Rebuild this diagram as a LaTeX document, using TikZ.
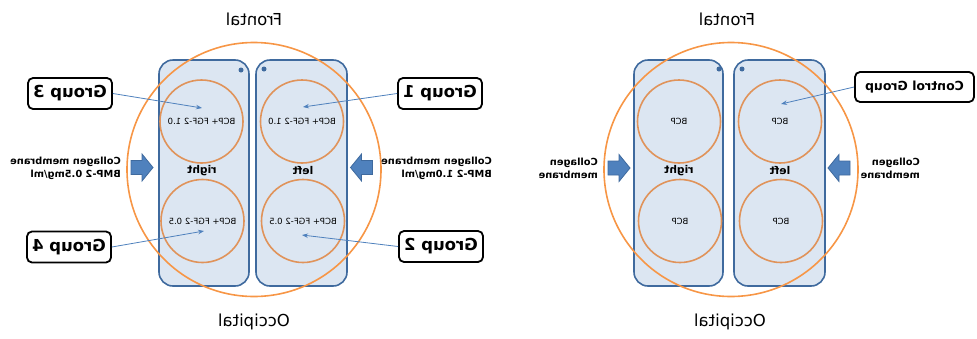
\documentclass[tikz,border=0pt]{standalone}
\usepackage{fontspec}
\setmainfont{DejaVu Sans}
\usepackage{graphicx}
\usetikzlibrary{arrows.meta}
\definecolor{slotfill}{HTML}{DCE6F2}
\definecolor{slotline}{HTML}{3F6A9E}
\definecolor{ring}{HTML}{F79646}
\definecolor{wellring}{HTML}{E0935A}
\definecolor{arrowblue}{HTML}{4F81BD}
\newcommand{\mir}[1]{\reflectbox{#1}}
\newcommand{\twoline}[2]{\mir{\begin{tabular}{@{}l@{}}#1\\#2\end{tabular}}}
\begin{document}
\begin{tikzpicture}[x=1pt,y=-1pt,
 slot/.style={draw=slotline, fill=slotfill, line width=1.6pt, rounded corners=14pt, minimum height=226pt, inner sep=0pt},
 skull/.style={circle, draw=ring, line width=1.6pt, minimum size=254pt, inner sep=0pt},
 well/.style={circle, draw=wellring, line width=1.6pt, minimum size=83pt, inner sep=0pt, font=\fontsize{8.5}{10}\selectfont},
 grp/.style={draw=black, line width=1.8pt, rounded corners=5pt, fill=white, font=\bfseries\fontsize{16.5}{18}\selectfont, minimum height=31pt, inner sep=0pt},
 side/.style={font=\bfseries\fontsize{10.7}{12}\selectfont, inner sep=0pt},
 memb/.style={font=\bfseries\fontsize{9.8}{13}\selectfont, inner sep=0pt, anchor=east},
 lobe/.style={font=\fontsize{16.5}{18}\selectfont, inner sep=0pt},
 dot/.style={circle, fill=slotline, minimum size=5pt, inner sep=0pt},
 ptr/.style={draw=arrowblue, line width=0.8pt, -{Stealth[length=6pt,width=4.5pt]}},
 blk/.style={fill=arrowblue, draw=slotline, line width=0.8pt},
 blockarrow/.pic={\draw[blk] (-11,-7) -- (0,-7) -- (0,-13.5) -- (11,0) -- (0,13.5) -- (0,7) -- (-11,7) -- cycle;},
]
\useasboundingbox (0,0) rectangle (977,338);
% ---------------- left panel ----------------
\node[slot, minimum width=90pt] (AR) at (204,173) {};
\node[slot, minimum width=91pt] (AL) at (301.5,173) {};
\node[skull] (AS) at (254,169.5) {};
\node[dot] (ad1) at (241,70) {};
\node[dot] (ad2) at (264,69) {};
\node[well] (w3) at (201.5,121.5) {\mir{BCP+ FGF-2 1.0}};
\node[well] (w4) at (202.5,221) {\mir{BCP+ FGF-2 0.5}};
\node[well] (w1) at (302,121.5) {\mir{BCP+ FGF-2 1.0}};
\node[well] (w2) at (303,221) {\mir{BCP+ FGF-2 0.5}};
\node[side] (arl) at (202,171) {\mir{right}};
\node[side] (all) at (303,171) {\mir{left}};
\node[lobe] (af) at (254,19) {\mir{Frontal}};
\node[lobe] (ao) at (254,322) {\mir{Occipital}};
\node[grp, minimum width=84pt] (g3) at (70,93.5) {\mir{Group 3}};
\node[grp, minimum width=84pt] (g1) at (440,93.5) {\mir{Group 1}};
\node[grp, minimum width=84pt] (g4) at (69,247) {\mir{Group 4}};
\node[grp, minimum width=84pt] (g2) at (441,246.5) {\mir{Group 2}};
\coordinate (t3) at (202,108);
\coordinate (t1) at (303,107);
\coordinate (t4) at (204,231);
\coordinate (t2) at (302,235);
\draw[ptr] (g3.east) -- (t3);
\draw[ptr] (g1.west) -- (t1);
\draw[ptr] (g4.east) -- (t4);
\draw[ptr] (g2.west) -- (t2);
\pic at (142,167.5) {blockarrow};
\pic[xscale=-1] at (361.5,167.5) {blockarrow};
\node[memb] (am1) at (121,168.5) {\twoline{Collagen membrane}{BMP-2 0.5mg/ml}};
\node[memb] (am2) at (492,168.5) {\twoline{Collagen membrane}{BMP-2 1.0mg/ml}};
% ---------------- right panel ----------------
\node[slot, minimum width=89pt] (BR) at (678.5,173) {};
\node[slot, minimum width=91pt] (BL) at (779.5,173) {};
\node[skull] (BS) at (731,169.5) {};
\node[dot] (bd1) at (719,69) {};
\node[dot] (bd2) at (742,69) {};
\node[well] (v3) at (679,121.5) {\mir{BCP}};
\node[well] (v4) at (680,221) {\mir{BCP}};
\node[well] (v1) at (780,121.5) {\mir{BCP}};
\node[well] (v2) at (781,221) {\mir{BCP}};
\node[side] (brl) at (679,171) {\mir{right}};
\node[side] (bll) at (780,171) {\mir{left}};
\node[lobe] (bf) at (727,19) {\mir{Frontal}};
\node[lobe] (bo) at (730,322) {\mir{Occipital}};
\node[grp, minimum width=119pt, minimum height=30pt, font=\bfseries\fontsize{12.5}{14}\selectfont] (gc) at (914.5,87) {\mir{Control Group}};
\coordinate (tc) at (781,104);
\draw[ptr] (gc.west) -- (tc);
\pic at (619,168) {blockarrow};
\pic[xscale=-1] at (839,168) {blockarrow};
\node[memb] (bm1) at (598,169.5) {\twoline{Collagen}{membrane}};
\node[memb] (bm2) at (920,169.5) {\twoline{Collagen}{membrane}};
\end{tikzpicture}
\end{document}
